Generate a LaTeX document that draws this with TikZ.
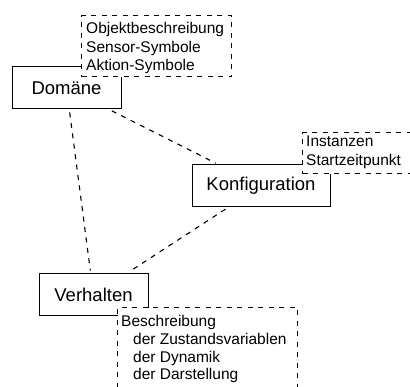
\documentclass[tikz,border=0pt]{standalone}
\usepackage{fontspec}
\setmainfont{Liberation Sans}
\begin{document}
\begin{tikzpicture}[x=1pt,y=-1pt,
    mainbox/.style={draw=black, line width=1pt, fill=white, inner sep=0pt,
                    minimum height=42pt, font=\fontsize{18.5}{22}\selectfont},
    notebox/.style={draw=black, line width=1.1pt, fill=white, inner sep=0pt,
                    dash pattern=on 5pt off 5.5pt},
    notetext/.style={anchor=north west, inner sep=0pt, align=left,
                    font=\fontsize{15.5}{18.5}\selectfont},
    link/.style={draw=black, line width=1.1pt, dash pattern=on 5pt off 5.5pt,
                 shorten <=3pt, shorten >=3pt}]
  \clip (0,0) rectangle (410,387);

  % main entities
  \node[mainbox, minimum width=109pt] (dom) at (66.5,88) {Domäne};
  \node[mainbox, minimum width=138pt] (konf) at (261,186) {Konfiguration};
  \node[mainbox, minimum width=109pt] (verh) at (93.5,295) {Verhalten};

  % dashed relations between the entities
  \draw[link] (dom) -- (konf);
  \draw[link] (dom) -- (verh);
  \draw[link] (konf) -- (verh);

  % attached notes
  \node[notebox, anchor=north west, minimum width=150pt, minimum height=61pt]
      (domnote) at (81,15) {};
  \node[notetext] (domtext) at (86,22.5)
      {Objektbeschreibung\\Sensor-Symbole\\Aktion-Symbole};

  \node[notebox, anchor=north west, minimum width=107.5pt, minimum height=41pt]
      (konfnote) at (302,132) {};
  \node[notetext] (konftext) at (306,136)
      {Instanzen\\Startzeitpunkt};

  \node[notebox, anchor=north west, minimum width=180pt, minimum height=90pt]
      (verhnote) at (117,307) {};
  \node[notetext, font=\fontsize{15.5}{17.8}\selectfont] (verhtext) at (121,315)
      {Beschreibung\\\hspace*{12pt}der Zustandsvariablen\\\hspace*{12pt}der Dynamik\\\hspace*{12pt}der Darstellung};
\end{tikzpicture}
\end{document}
